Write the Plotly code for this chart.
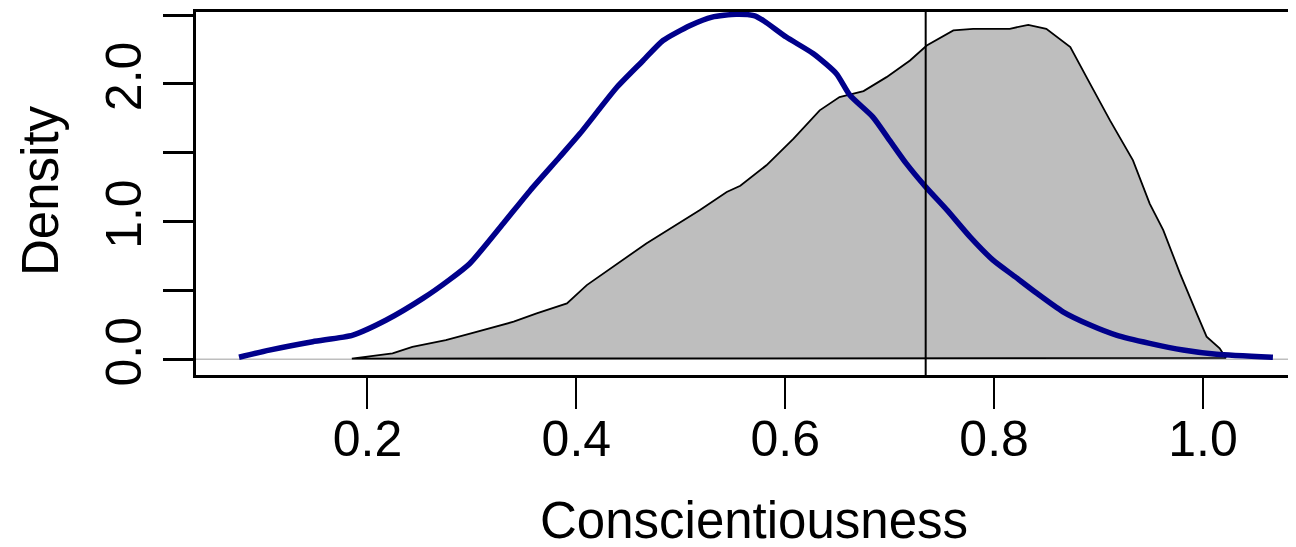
import plotly.graph_objects as go

# ---- data ----
blue_x = [0.077, 0.106, 0.1475, 0.186, 0.218, 0.253, 0.278, 0.298, 0.330, 0.356, 0.384,
          0.4035, 0.439, 0.464, 0.483, 0.509, 0.530, 0.553, 0.570, 0.580, 0.601, 0.627,
          0.649, 0.662, 0.684, 0.700, 0.716, 0.7345, 0.755, 0.777, 0.799, 0.820, 0.841,
          0.866, 0.892, 0.917, 0.949, 0.981, 1.013, 1.067]
blue_y = [0.015, 0.067, 0.128, 0.176, 0.285, 0.442, 0.575, 0.696, 0.986, 1.228, 1.469,
          1.639, 1.977, 2.170, 2.315, 2.424, 2.485, 2.505, 2.495, 2.455, 2.340, 2.219,
          2.074, 1.917, 1.759, 1.590, 1.421, 1.252, 1.083, 0.889, 0.720, 0.600, 0.479,
          0.345, 0.249, 0.176, 0.116, 0.067, 0.036, 0.0145]

gray_x = [0.185, 0.224, 0.243, 0.275, 0.300, 0.340, 0.362, 0.391, 0.410, 0.439, 0.467,
          0.490, 0.518, 0.544, 0.557, 0.582, 0.608, 0.633, 0.652, 0.675, 0.697, 0.7195,
          0.7355, 0.761, 0.780, 0.815, 0.8327, 0.850, 0.873, 0.892, 0.911, 0.933, 0.949,
          0.962, 0.978, 0.994, 1.0035, 1.016, 1.022]
gray_y = [0.005, 0.043, 0.090, 0.140, 0.190, 0.273, 0.334, 0.406, 0.539, 0.696, 0.841,
          0.950, 1.083, 1.215, 1.260, 1.409, 1.603, 1.808, 1.904, 1.948, 2.049, 2.170,
          2.279, 2.388, 2.400, 2.400, 2.429, 2.400, 2.267, 2.000, 1.735, 1.445, 1.131,
          0.938, 0.624, 0.334, 0.164, 0.080, 0.010]

vline_x = 0.7345

x_ticks = [0.2, 0.4, 0.6, 0.8, 1.0]
x_labels = ["0.2", "0.4", "0.6", "0.8", "1.0"]
y_ticks = [0.0, 0.5, 1.0, 1.5, 2.0, 2.5]
y_labels = ["0.0", "", "1.0", "", "2.0", ""]

x_title = "Conscientiousness"
y_title = "Density"

# ---- figure ----
# the page body has an 8px default margin, so the figure is made 8px smaller
OFF = 8
W, H = 1296 - OFF, 547 - OFF
L, T = 196 - OFF, 12 - OFF
R = 0
B = H - (375 - OFF)
FONT = "Liberation Sans, Arial, sans-serif"

fig = go.Figure()

# gray filled density polygon (closed)
px = gray_x + [gray_x[0]]
py = gray_y + [gray_y[0]]
fig.add_trace(go.Scatter(x=px, y=py, mode="lines", fill="toself",
                         fillcolor="#BEBEBE",
                         line=dict(color="black", width=1.8),
                         hoverinfo="skip", showlegend=False))

# blue density line
fig.add_trace(go.Scatter(x=blue_x, y=blue_y, mode="lines",
                         line=dict(color="#00008B", width=5.5, shape="spline", smoothing=0.6),
                         hoverinfo="skip", showlegend=False))

# zero line (gray, below data) and vertical reference line
fig.add_shape(type="line", xref="paper", yref="y", x0=0, x1=1, y0=0, y1=0,
              line=dict(color="#BEBEBE", width=1.5), layer="below")
fig.add_shape(type="line", xref="x", yref="paper", x0=vline_x, x1=vline_x, y0=0, y1=1,
              line=dict(color="black", width=2))

plot_w = W - L - R
plot_h = H - T - B

fig.add_annotation(text=x_title, xref="paper", yref="paper",
                   x=(754 - OFF - L) / plot_w, y=(H - B - (520 - OFF)) / plot_h,
                   xanchor="center", yanchor="middle", showarrow=False,
                   font=dict(family=FONT, size=51, color="black"))
fig.add_annotation(text=y_title, xref="paper", yref="paper",
                   x=(40 - OFF - L) / plot_w, y=(H - B - (191 - OFF)) / plot_h,
                   xanchor="center", yanchor="middle", showarrow=False, textangle=-90,
                   font=dict(family=FONT, size=51, color="black"))

fig.update_layout(
    width=W, height=H,
    margin=dict(l=L, r=R, t=T, b=B, pad=0),
    paper_bgcolor="white", plot_bgcolor="white",
    font=dict(family=FONT, size=50, color="black"),
    xaxis=dict(range=[0.0358, 1.0891], tickvals=x_ticks, ticktext=x_labels,
               ticks="outside", ticklen=31, tickwidth=2, tickcolor="black",
               showline=True, linecolor="black", linewidth=3, mirror=True,
               showgrid=False, zeroline=False, ticklabelstandoff=-13,
               tickfont=dict(family=FONT, size=50)),
    yaxis=dict(range=[-0.114, 2.522], tickvals=y_ticks, ticktext=y_labels,
               ticks="outside", ticklen=30, tickwidth=3, tickcolor="black",
               showline=True, linecolor="black", linewidth=3, mirror=False,
               showgrid=False, zeroline=False, tickangle=-90, ticklabelstandoff=2,
               tickfont=dict(family=FONT, size=50)),
)

fig.write_html("out.html")
